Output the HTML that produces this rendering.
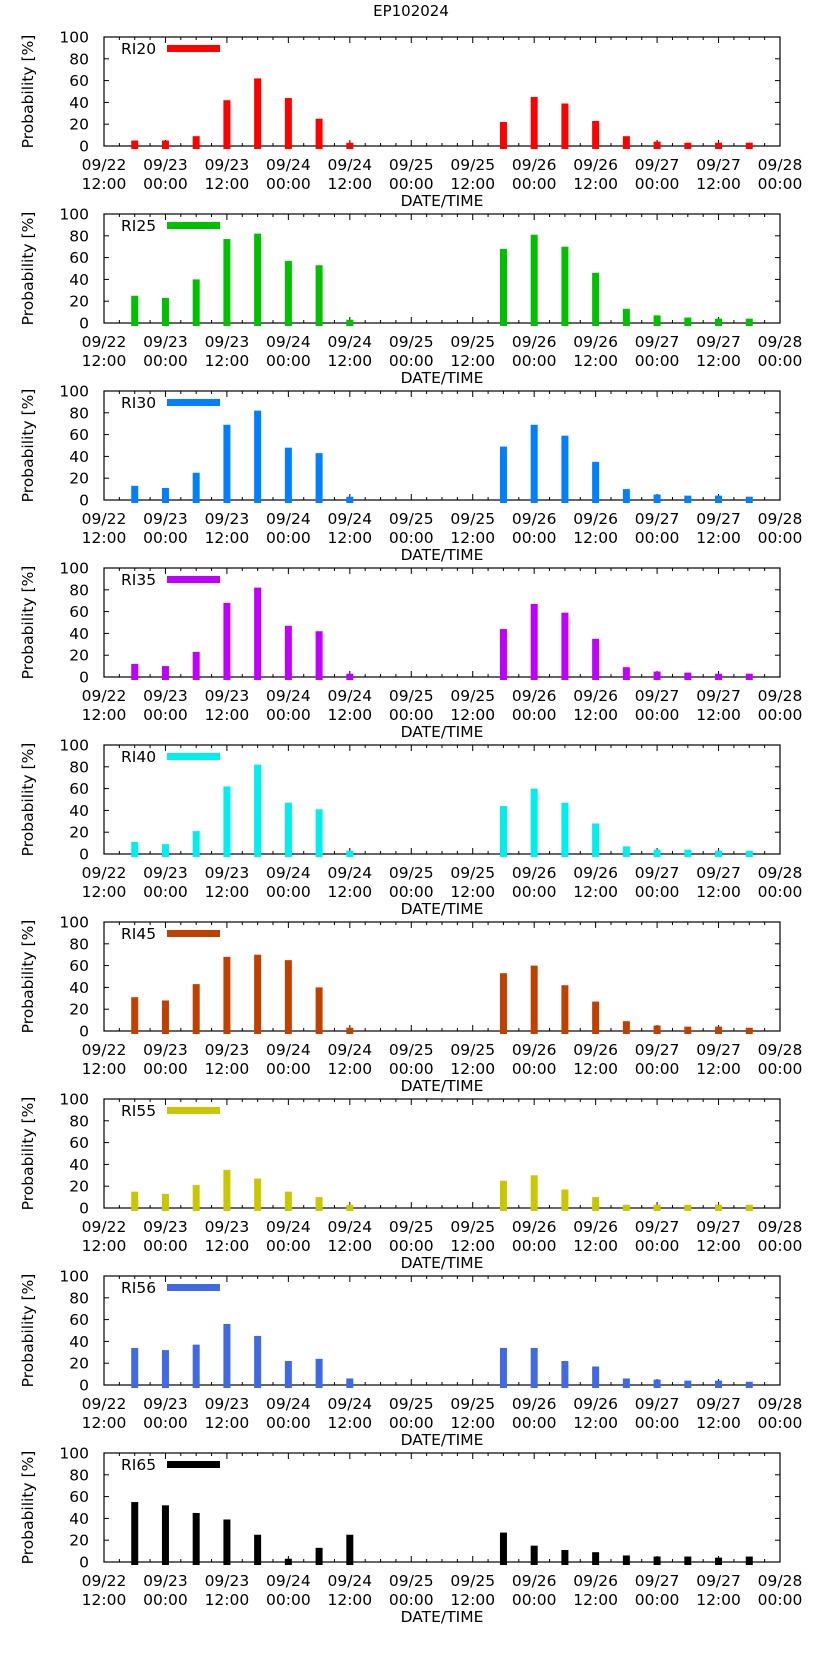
<!DOCTYPE html>
<html><head><meta charset="utf-8"><style>
html,body{margin:0;padding:0;background:#fff;}
svg{display:block;font-family:"DejaVu Sans","Liberation Sans",sans-serif;}
</style></head><body>
<svg id="chart" width="822" height="1653" viewBox="0 0 822 1653" xmlns="http://www.w3.org/2000/svg">
<text x="411" y="16" font-size="15" text-anchor="middle">EP102024</text>
</svg>
<script>
const seriesNames = ["RI20","RI25","RI30","RI35","RI40","RI45","RI55","RI56","RI65"];
const seriesColors = ["#ff0000","#00c000","#0080ff","#c000ff","#00eeee","#c04000","#c8c800","#4169e1","#000000"];
const barHours = [6,12,18,24,30,36,42,48,78,84,90,96,102,108,114,120,126];
const ri20 = [5,5,9,42,62,44,25,3,22,45,39,23,9,4,3,3,3];
const ri25 = [25,23,40,77,82,57,53,3,68,81,70,46,13,7,5,4,4];
const ri30 = [13,11,25,69,82,48,43,3,49,69,59,35,10,5,4,4,3];
const ri35 = [12,10,23,68,82,47,42,3,44,67,59,35,9,5,4,3,3];
const ri40 = [11,9,21,62,82,47,41,3,44,60,47,28,7,4,4,3,3];
const ri45 = [31,28,43,68,70,65,40,3,53,60,42,27,9,5,4,4,3];
const ri55 = [15,13,21,35,27,15,10,3,25,30,17,10,3,3,3,3,3];
const ri56 = [34,32,37,56,45,22,24,6,34,34,22,17,6,5,4,4,3];
const ri65 = [55,52,45,39,25,3,13,25,27,15,11,9,6,5,5,4,5];
const allSeries = [ri20,ri25,ri30,ri35,ri40,ri45,ri55,ri56,ri65];
const xTickDates = ["09/22","09/23","09/23","09/24","09/24","09/25","09/25","09/26","09/26","09/27","09/27","09/28"];
const xTickTimes = ["12:00","00:00","12:00","00:00","12:00","00:00","12:00","00:00","12:00","00:00","12:00","00:00"];
const yTicks = [0,20,40,60,80,100];

const NS="http://www.w3.org/2000/svg";
const svg=document.getElementById('chart');
const L=104,R=780,H=109,STEP=177,TOP0=37,XMAX=132;
function mk(tag,attrs,parent){const e=document.createElementNS(NS,tag);for(const k in attrs)e.setAttribute(k,attrs[k]);(parent||svg).appendChild(e);return e;}
function xs(h){return L+(R-L)*h/XMAX;}

allSeries.forEach((vals,p)=>{
  const top=TOP0+p*STEP, zero=top+H;
  const ys=v=>zero-H*v/100;
  const g=mk('g',{});
  
  
  // frame
  const f=mk('rect',{x:L,y:top,width:R-L,height:H,fill:'none',stroke:'#000','stroke-width':1.2},g);
  
  
  // x ticks
  for(let h=0;h<=XMAX;h+=3){
    const len=(h%12===0)?6:3,x=xs(h);
    mk('line',{x1:x,y1:zero,x2:x,y2:zero-len,stroke:'#000','stroke-width':1},g);
    mk('line',{x1:x,y1:top,x2:x,y2:top+len,stroke:'#000','stroke-width':1},g);
  }
  // y ticks & labels
  yTicks.forEach(t=>{
    const y=ys(t);
    mk('line',{x1:L,y1:y,x2:L+5,y2:y,stroke:'#000'},g);
    mk('line',{x1:R,y1:y,x2:R-5,y2:y,stroke:'#000'},g);
    const tl=mk('text',{x:89,y:y+5.5,'font-size':15.5,'text-anchor':'end'},g);
    tl.textContent=t;
    
    
  });
  // bars (drawn over ticks)
  vals.forEach((v,i)=>{
    const b=mk('rect',{x:xs(barHours[i])-3.5,y:ys(v),width:7,height:zero+3-ys(v),fill:seriesColors[p]},g);
    
    
  });
  // x labels
  xTickDates.forEach((d,i)=>{
    const x=xs(i*12);
    const t1=mk('text',{x:x,y:zero+24,'font-size':15.5,'text-anchor':'middle'},g);
    t1.textContent=d;
    
    
    const t2=mk('text',{x:x,y:zero+43,'font-size':15.5,'text-anchor':'middle'},g);
    t2.textContent=xTickTimes[i];
    
    
  });
  const xt=mk('text',{x:442,y:zero+60,'font-size':15.5,'text-anchor':'middle'},g);
  xt.textContent='DATE/TIME';
  
  
  const yt=mk('text',{x:0,y:0,'font-size':15.5,'text-anchor':'middle',transform:`translate(33,${top+H/2}) rotate(-90)`},g);
  yt.textContent='Probability [%]';
  
  
  // legend
  const lt=mk('text',{x:121,y:top+17,'font-size':15.5},g);
  lt.textContent=seriesNames[p];
  
  
  const lr=mk('rect',{x:167,y:top+8,width:53,height:7,fill:seriesColors[p]},g);
  
  
});
</script>
</body></html>
